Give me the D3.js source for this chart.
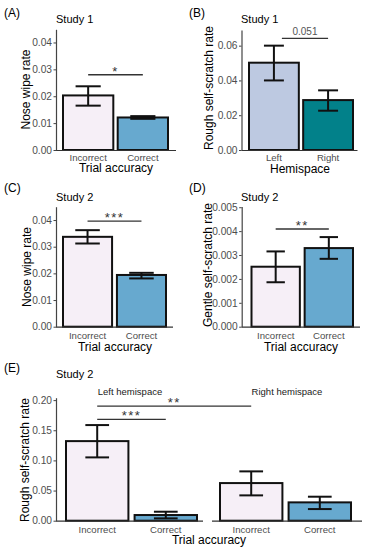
<!DOCTYPE html>
<html>
<head>
<meta charset="utf-8">
<script src="https://cdn.jsdelivr.net/npm/d3@7"></script>
<style>
  body { margin: 0; background: #fff; }
  svg { display: block; font-family: "Liberation Sans", Arial, sans-serif; }
</style>
</head>
<body>
<svg id="fig" width="365" height="550"></svg>
<script>
// categories
var accuracyCats = ["Incorrect", "Correct"];
var hemiCats = ["Left", "Right"];

// (A) Study 1 nose wipe rate
var noseWipeS1Mean = [0.0203, 0.0121];
var noseWipeS1Lo   = [0.0165, 0.0116];
var noseWipeS1Hi   = [0.0237, 0.0126];

// (B) Study 1 rough self-scratch by hemispace
var roughS1Mean = [0.0502, 0.0287];
var roughS1Lo   = [0.0400, 0.0226];
var roughS1Hi   = [0.0600, 0.0343];

// (C) Study 2 nose wipe rate
var noseWipeS2Mean = [0.0337, 0.0194];
var noseWipeS2Lo   = [0.0312, 0.0181];
var noseWipeS2Hi   = [0.0362, 0.0202];

// (D) Study 2 gentle self-scratch rate
var gentleS2Mean = [0.00251, 0.00329];
var gentleS2Lo   = [0.00186, 0.00284];
var gentleS2Hi   = [0.00315, 0.00375];

// (E) Study 2 rough self-scratch, by hemispace facet
var roughS2LeftMean  = [0.132, 0.0094];
var roughS2LeftLo    = [0.105, 0.0039];
var roughS2LeftHi    = [0.1586, 0.0149];
var roughS2RightMean = [0.0624, 0.0304];
var roughS2RightLo   = [0.0420, 0.0193];
var roughS2RightHi   = [0.0818, 0.0398];

// tick labels
var ticksA = [0, 0.01, 0.02, 0.03, 0.04];
var ticksB = [0, 0.02, 0.04, 0.06];
var ticksD = [0, 0.001, 0.002, 0.003, 0.004, 0.005];
var ticksE = [0, 0.05, 0.10, 0.15, 0.20];

var fills = { Incorrect: "#f6eff7", Correct: "#67a9cf", Left: "#bdc9e1", Right: "#02818a" };

var svg = d3.select("#fig");
var scales = {};

function drawPanel(key, p) {
  var g = svg.append("g");
  var x = d3.scaleBand().domain(p.cats).range(p.bars).paddingInner(p.pad);
  var y = d3.scaleLinear().domain([0, p.yMax]).range([p.base, p.top]);
  scales[key] = { x: x, y: y };

  var rows = p.cats.map(function (c, i) {
    return { cat: c, m: p.mean[i], lo: p.lo[i], hi: p.hi[i] };
  });

  g.selectAll("rect.bar").data(rows).enter().append("rect")
    .attr("class", "bar")
    .attr("x", function (d) { return x(d.cat); })
    .attr("y", function (d) { return y(d.m); })
    .attr("width", x.bandwidth())
    .attr("height", function (d) { return y(0) - y(d.m); })
    .attr("fill", function (d) { return fills[d.cat]; })
    .attr("stroke", "#111")
    .attr("stroke-width", 2);

  var half = x.bandwidth() * p.cap / 2;
  var eb = g.selectAll("g.err").data(rows).enter().append("g")
    .attr("class", "err")
    .attr("stroke", "#111")
    .attr("stroke-width", 2);
  eb.append("line")
    .attr("x1", function (d) { return x(d.cat) + x.bandwidth() / 2; })
    .attr("x2", function (d) { return x(d.cat) + x.bandwidth() / 2; })
    .attr("y1", function (d) { return y(d.lo); })
    .attr("y2", function (d) { return y(d.hi); });
  ["lo", "hi"].forEach(function (k) {
    eb.append("line")
      .attr("x1", function (d) { return x(d.cat) + x.bandwidth() / 2 - half; })
      .attr("x2", function (d) { return x(d.cat) + x.bandwidth() / 2 + half; })
      .attr("y1", function (d) { return y(d[k]); })
      .attr("y2", function (d) { return y(d[k]); });
  });

  // x axis line + labels
  g.append("line")
    .attr("x1", p.axis[0]).attr("x2", p.axis[1])
    .attr("y1", y(0) + 0.5).attr("y2", y(0) + 0.5)
    .attr("stroke", "#333").attr("stroke-width", 1.2);
  var xa = g.append("g")
    .attr("transform", "translate(0," + y(0) + ")")
    .call(d3.axisBottom(x).tickSize(0));
  xa.select(".domain").remove();
  xa.selectAll("text")
    .attr("y", p.xLabDy).attr("dy", 0)
    .attr("font-size", 9.6).attr("fill", "#4d4d4d")
    .attr("font-family", "Liberation Sans, Arial, sans-serif");

  if (p.ticks) {
    var ya = g.append("g")
      .attr("transform", "translate(" + p.axis[0] + ",0)")
      .call(d3.axisLeft(y).tickValues(p.ticks).tickFormat(d3.format(p.fmt))
        .tickSize(2.5).tickSizeOuter(0).tickPadding(1.5));
    ya.select(".domain").attr("stroke", "#444").attr("stroke-width", 1.2);
    ya.selectAll(".tick line").attr("stroke", "#444");
    ya.selectAll("text")
      .attr("font-size", 10.2).attr("fill", "#4d4d4d")
      .attr("font-family", "Liberation Sans, Arial, sans-serif");
  }
}

drawPanel("A", { cats: accuracyCats, mean: noseWipeS1Mean, lo: noseWipeS1Lo, hi: noseWipeS1Hi,
  bars: [63, 168], pad: 0.08, axis: [56, 176], base: 150, top: 29.3, yMax: 0.0449,
  ticks: ticksA, fmt: ".2f", cap: 0.5, xLabDy: 10.5 });
drawPanel("B", { cats: hemiCats, mean: roughS1Mean, lo: roughS1Lo, hi: roughS1Hi,
  bars: [249, 353], pad: 0.08, axis: [241.5, 357.5], base: 150, top: 30, yMax: 0.069,
  ticks: ticksB, fmt: ".2f", cap: 0.4, xLabDy: 11 });
drawPanel("C", { cats: accuracyCats, mean: noseWipeS2Mean, lo: noseWipeS2Lo, hi: noseWipeS2Hi,
  bars: [63, 166], pad: 0.09, axis: [56, 173], base: 326.7, top: 206.7, yMax: 0.045,
  ticks: ticksA, fmt: ".2f", cap: 0.5, xLabDy: 12.3 });
drawPanel("D", { cats: accuracyCats, mean: gentleS2Mean, lo: gentleS2Lo, hi: gentleS2Hi,
  bars: [251.5, 353], pad: 0.09, axis: [241.7, 360], base: 326.7, top: 206.5, yMax: 0.00503,
  ticks: ticksD, fmt: ".3f", cap: 0.38, xLabDy: 12.3 });
drawPanel("EL", { cats: accuracyCats, mean: roughS2LeftMean, lo: roughS2LeftLo, hi: roughS2LeftHi,
  bars: [66, 197], pad: 0.09, axis: [56, 203], base: 520.7, top: 397.7, yMax: 0.204,
  ticks: ticksE, fmt: ".2f", cap: 0.38, xLabDy: 12 });
drawPanel("ER", { cats: accuracyCats, mean: roughS2RightMean, lo: roughS2RightLo, hi: roughS2RightHi,
  bars: [220, 351], pad: 0.09, axis: [212, 362], base: 520.7, top: 397.7, yMax: 0.204,
  ticks: null, fmt: ".2f", cap: 0.38, xLabDy: 12 });

// significance brackets
var sigs = [
  { from: ["A", "Incorrect"], to: ["A", "Correct"], y: 0.0280, label: "*" },
  { from: ["B", "Left"], to: ["B", "Right"], y: 0.0642, label: "0.051", shift: 0.16 },
  { from: ["C", "Incorrect"], to: ["C", "Correct"], y: 0.0396, label: "***" },
  { from: ["D", "Incorrect"], to: ["D", "Correct"], y: 0.00409, label: "**" },
  { from: ["EL", "Incorrect"], to: ["EL", "Correct"], y: 0.168, label: "***" },
  { from: ["EL", "Incorrect"], to: ["ER", "Incorrect"], y: 0.190, label: "**" }
];
sigs.forEach(function (s) {
  var sa = scales[s.from[0]], sb = scales[s.to[0]];
  var x1 = sa.x(s.from[1]) + sa.x.bandwidth() * (0.5 + (s.shift || 0));
  var x2 = sb.x(s.to[1]) + sb.x.bandwidth() / 2;
  var yy = sa.y(s.y);
  svg.append("line")
    .attr("x1", x1).attr("x2", x2).attr("y1", yy).attr("y2", yy)
    .attr("stroke", "#333").attr("stroke-width", 1.4);
  var stars = s.label.indexOf("*") >= 0;
  svg.append("text")
    .attr("x", (x1 + x2) / 2)
    .attr("y", stars ? yy + 1 : yy - 3)
    .attr("text-anchor", "middle")
    .attr("font-size", stars ? 13 : 10)
    .attr("letter-spacing", stars ? 1.5 : 0)
    .attr("fill", stars ? "#333" : "#555")
    .text(s.label);
});

// titles and labels
var labels = [
  { t: "(A)", x: 4, y: 16.5, s: 12 },
  { t: "Study 1", x: 56, y: 22.5, s: 11 },
  { t: "(B)", x: 189, y: 16.5, s: 12 },
  { t: "Study 1", x: 241, y: 22.5, s: 11 },
  { t: "(C)", x: 4, y: 192, s: 12 },
  { t: "Study 2", x: 56, y: 200.5, s: 11 },
  { t: "(D)", x: 189, y: 192, s: 12 },
  { t: "Study 2", x: 241, y: 200.5, s: 11 },
  { t: "(E)", x: 4, y: 371.5, s: 12 },
  { t: "Study 2", x: 56, y: 377.5, s: 11 },
  { t: "Trial accuracy", x: 116, y: 172, s: 12, a: "middle" },
  { t: "Hemispace", x: 300, y: 172.5, s: 12, a: "middle" },
  { t: "Trial accuracy", x: 115, y: 351.3, s: 12, a: "middle" },
  { t: "Trial accuracy", x: 301, y: 351.3, s: 12, a: "middle" },
  { t: "Trial accuracy", x: 209, y: 543.6, s: 12, a: "middle" },
  { t: "Left hemispace", x: 130, y: 395, s: 9.5, a: "middle", c: "#1a1a1a" },
  { t: "Right hemispace", x: 287, y: 395, s: 9.5, a: "middle", c: "#1a1a1a" }
];
labels.forEach(function (l) {
  svg.append("text")
    .attr("x", l.x).attr("y", l.y)
    .attr("font-size", l.s)
    .attr("text-anchor", l.a || "start")
    .attr("fill", l.c || "#000")
    .text(l.t);
});

var yTitles = [
  { t: "Nose wipe rate", x: 30.3, y: 89.5 },
  { t: "Rough self-scratch rate", x: 213, y: 88 },
  { t: "Nose wipe rate", x: 30.5, y: 267 },
  { t: "Gentle self-scratch rate", x: 212.3, y: 265 },
  { t: "Rough self-scratch rate", x: 29.3, y: 460 }
];
yTitles.forEach(function (l) {
  svg.append("text")
    .attr("transform", "translate(" + l.x + "," + l.y + ") rotate(-90)")
    .attr("text-anchor", "middle")
    .attr("font-size", 12)
    .text(l.t);
});
</script>
</body>
</html>
